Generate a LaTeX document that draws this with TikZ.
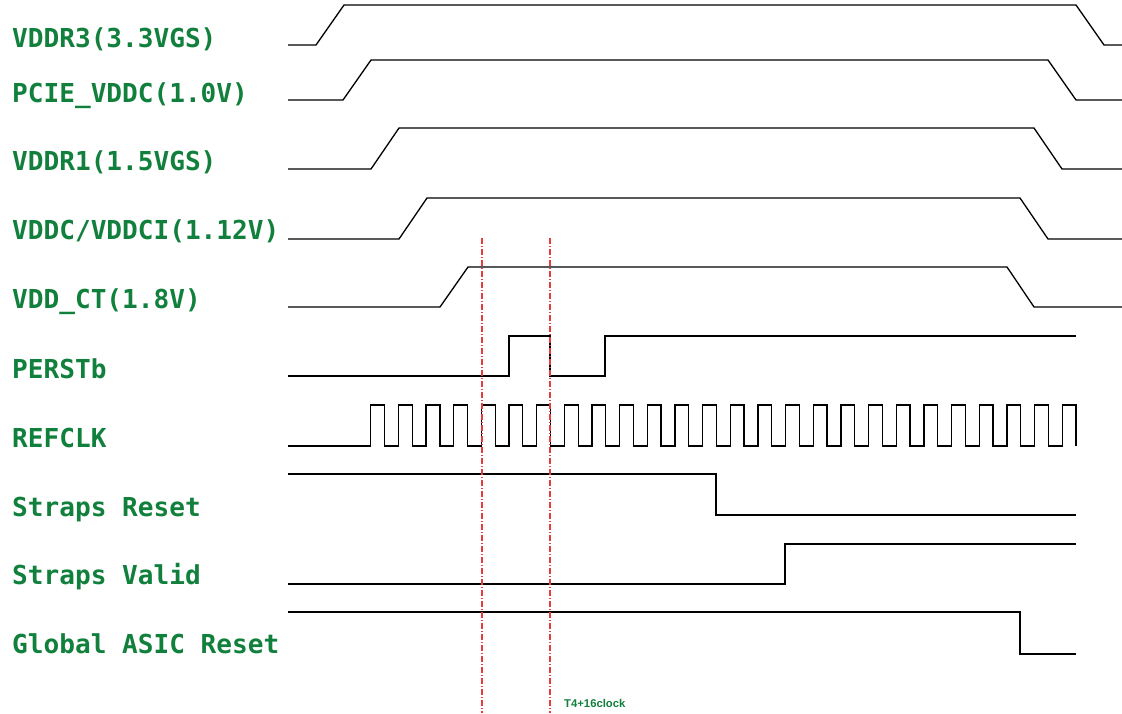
\documentclass[tikz,border=0pt]{standalone}
\usepackage{fontspec}
\newfontfamily\lblfont{DejaVu Sans Mono}
\newfontfamily\notefont{Liberation Sans}
\definecolor{lblgreen}{RGB}{18,128,61}
\definecolor{markred}{RGB}{232,60,60}
\tikzset{
  sig/.style={draw=black, line width=1.3pt, line join=miter},
  lbl/.style={anchor=base west, inner sep=0pt, text=lblgreen, font=\lblfont\bfseries\fontsize{26.1}{30}\selectfont},
  marker/.style={draw=markred, line width=1.2pt, dash pattern=on 6pt off 2pt on 1pt off 2pt},
  note/.style={anchor=base west, inner sep=0pt, text=lblgreen, font=\notefont\bfseries\fontsize{11.3}{13}\selectfont}
}
\begin{document}
\begin{tikzpicture}[x=1pt,y=-1pt]
\useasboundingbox (0,0) rectangle (1122,713);
% labels
\node[lbl] (l1) at (12,47) {VDDR3(3.3VGS)};
\node[lbl] (l2) at (12,102) {PCIE\_VDDC(1.0V)};
\node[lbl] (l3) at (12,170) {VDDR1(1.5VGS)};
\node[lbl] (l4) at (12,239) {VDDC/VDDCI(1.12V)};
\node[lbl] (l5) at (12,308) {VDD\_CT(1.8V)};
\node[lbl] (l6) at (12,378) {PERSTb};
\node[lbl] (l7) at (12,447) {REFCLK};
\node[lbl] (l8) at (12,516) {Straps Reset};
\node[lbl] (l9) at (12,584) {Straps Valid};
\node[lbl] (l10) at (12,653) {Global ASIC Reset};
% power rails
\draw[sig] (288,45) -- (316,45) -- (344,5) -- (1076,5) -- (1104,45) -- (1122,45);
\draw[sig] (288,100) -- (343,100) -- (371,60) -- (1048,60) -- (1076,100) -- (1122,100);
\draw[sig] (288,169) -- (371,169) -- (399,128) -- (1034,128) -- (1062,169) -- (1122,169);
\draw[sig] (288,239) -- (399,239) -- (427,198) -- (1020,198) -- (1048,239) -- (1122,239);
\draw[sig] (288,307) -- (440,307) -- (468,267) -- (1007,267) -- (1034,307) -- (1122,307);
% PERSTb
\draw[sig] (288,376) -- (509,376) -- (509,336) -- (550,336) -- (550,376) -- (605,376) -- (605,336) -- (1076,336);
% REFCLK
\draw[sig] (288,446) -- (370.7,446)
  \foreach \k in {0,...,24}{ -- ++(0,-41) -- ++(13.83,0) -- ++(0,41) -- ++(13.83,0)}
  -- ++(0,-41) -- ++(13.83,0) -- ++(0,41);
% straps and reset
\draw[sig] (288,474) -- (716,474) -- (716,515) -- (1076,515);
\draw[sig] (288,584) -- (785,584) -- (785,544) -- (1076,544);
\draw[sig] (288,612) -- (1020,612) -- (1020,654) -- (1076,654);
% markers
\coordinate (m1t) at (482,238);
\coordinate (m1b) at (482,713);
\coordinate (m2t) at (550,238);
\coordinate (m2b) at (550,713);
\draw[marker] (m1t) -- (m1b);
\draw[marker] (m2t) -- (m2b);
\node[note] (t4) at (564,707) {T4+16clock};
\end{tikzpicture}
\end{document}
